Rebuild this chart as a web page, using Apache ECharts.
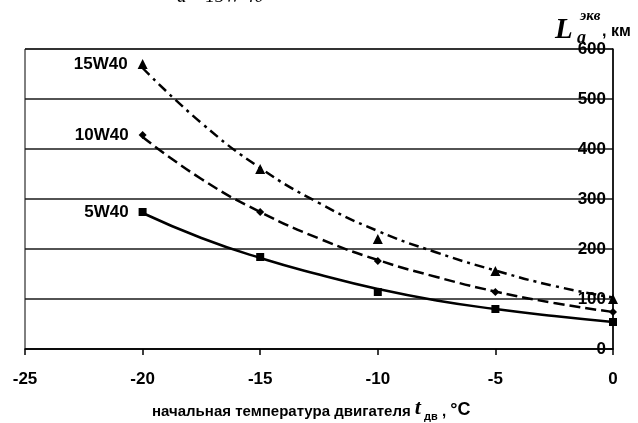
<!DOCTYPE html>
<html>
<head>
<meta charset="utf-8">
<script src="https://cdn.jsdelivr.net/npm/echarts@6/dist/echarts.min.js"></script>
<style>
  html, body { margin: 0; padding: 0; background: #fff; }
  #chart { width: 638px; height: 423px; }
</style>
</head>
<body>
<div id="chart"></div>
<script>
// Oil grades and measured points (temperature, °C -> equivalent run, km)
const grades = ['15W40', '10W40', '5W40'];
const temps = [-20, -15, -10, -5, 0];
const measured15W40 = [570, 360, 220, 156, 100];
const measured10W40 = [428, 274, 176, 114, 74];
const measured5W40 = [274, 184, 114, 80, 54];

// Trend curves sampled every 2.5 °C
const trendTemps = [-20, -17.5, -15, -12.5, -10, -7.5, -5, -2.5, 0];
const trend15W40 = [562, 452, 362, 292, 236, 193, 157, 126, 103];
const trend10W40 = [424, 340, 274, 221, 178, 144, 115, 92, 74];
const trend5W40 = [272, 222, 182, 149, 120, 97, 80, 66, 54];

const xTicks = [-25, -20, -15, -10, -5, 0];
const yTicks = [0, 100, 200, 300, 400, 500, 600];

const FONT = 'Liberation Sans, Arial, sans-serif';
const SERIF = '"Liberation Serif", "Times New Roman", serif';
const chart = echarts.init(document.getElementById('chart'));

function pairs(xs, ys) { return xs.map((x, i) => [x, ys[i]]); }

function markerSeries(name, values, symbol, size) {
  const data = pairs(temps, values).map((p, i) => i === 0
    ? { value: p, label: { show: true, position: 'left', distance: 10, formatter: name,
        fontFamily: FONT, fontWeight: 'bold', fontSize: 17, color: '#000' } }
    : { value: p });
  return {
    name: name, type: 'scatter', symbol: symbol, symbolSize: size,
    itemStyle: { color: '#000', opacity: 1 }, data: data, z: 5, silent: true
  };
}

function trendSeries(name, values, dash) {
  return {
    name: name + ' trend', type: 'line', smooth: true, showSymbol: false,
    lineStyle: { color: '#000', width: 2.5, type: dash },
    data: pairs(trendTemps, values), z: 4, silent: true
  };
}

chart.setOption({
  animation: false,
  backgroundColor: '#fff',
  grid: { left: 25, right: 25, top: 49, bottom: 74, show: true, borderColor: '#000', borderWidth: 1 },
  xAxis: {
    type: 'value', min: xTicks[0], max: xTicks[xTicks.length - 1], interval: 5,
    axisLine: { show: true, onZero: false, lineStyle: { color: '#000', width: 1.5 } },
    axisTick: { show: true, length: 6, lineStyle: { color: '#000', width: 1.5 } },
    axisLabel: { margin: 22, fontFamily: FONT, fontWeight: 'bold', fontSize: 17, color: '#000' },
    splitLine: { show: false }
  },
  yAxis: {
    type: 'value', position: 'right', min: yTicks[0], max: yTicks[yTicks.length - 1], interval: 100,
    axisLine: { show: true, onZero: false, lineStyle: { color: '#000', width: 1.5 } },
    axisTick: { show: false },
    axisLabel: { inside: true, margin: 7, fontFamily: FONT, fontWeight: 'bold', fontSize: 17, color: '#000' },
    splitLine: { show: true, lineStyle: { color: '#1a1a1a', width: 1.5 } }
  },
  series: [
    trendSeries(grades[0], trend15W40, [10, 5, 3, 5]),
    trendSeries(grades[1], trend10W40, [11, 5]),
    trendSeries(grades[2], trend5W40, 'solid'),
    markerSeries(grades[0], measured15W40, 'triangle', 10),
    markerSeries(grades[1], measured10W40, 'diamond', 8),
    markerSeries(grades[2], measured5W40, 'rect', 8)
  ],
  graphic: [
    {
      type: 'text', left: 177, top: -13,
      style: { text: 'а – 15W 40', font: 'italic 19px ' + SERIF, fill: '#000' }
    },
    {
      type: 'text', left: 555, top: 16,
      style: { text: 'L', font: 'italic bold 29px ' + SERIF, fill: '#000' }
    },
    {
      type: 'text', left: 580, top: 9,
      style: { text: 'экв', font: 'italic bold 15px ' + SERIF, fill: '#000' }
    },
    {
      type: 'text', left: 577, top: 29,
      style: { text: 'a', font: 'italic bold 18px ' + SERIF, fill: '#000' }
    },
    {
      type: 'text', left: 602, top: 24,
      style: { text: ', км', font: 'bold 16px ' + FONT, fill: '#000' }
    },
    {
      type: 'text', left: 152, top: 397,
      style: {
        text: '{a|начальная температура двигателя }{t|t}{sub|дв}{b| , }{deg|°С}',
        rich: {
          a: { font: 'bold 15px ' + FONT, fill: '#000', verticalAlign: 'bottom' },
          t: { font: 'italic bold 22px ' + SERIF, fill: '#000', verticalAlign: 'bottom', padding: [0, 3, 0, 0] },
          sub: { font: 'bold 11px ' + FONT, fill: '#000', verticalAlign: 'bottom', padding: [0, 0, -3, 0] },
          b: { font: 'bold 15px ' + FONT, fill: '#000', verticalAlign: 'bottom' },
          deg: { font: 'bold 18px ' + FONT, fill: '#000', verticalAlign: 'bottom' }
        }
      }
    }
  ]
});
</script>
</body>
</html>
